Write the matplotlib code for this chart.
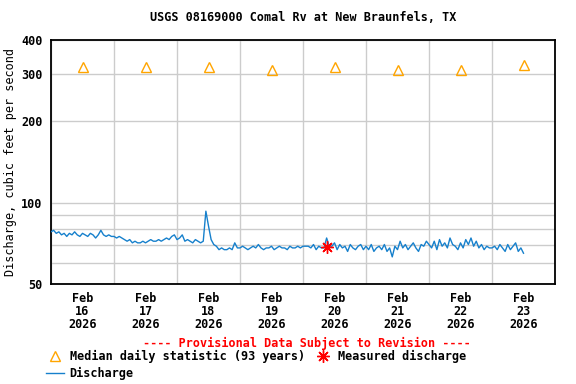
import matplotlib

matplotlib.use('Agg')
import matplotlib.dates as mdates
import matplotlib.pyplot as plt
import pandas as pd

# hourly discharge, cfs, starting Feb 16 2026 00:00
discharge_start = '2026-02-16 00:00'
discharge_cfs = [
    78, 79, 77, 78, 76, 77, 75, 77, 76, 78, 76, 75, 77, 76, 75, 77, 76, 74, 76, 79, 76, 75, 76, 75,
    75, 74, 75, 74, 73, 72, 73, 71, 72, 71, 71, 72, 71, 72, 73, 72, 72, 73, 72, 73, 74, 73, 75, 76,
    73, 74, 76, 72, 73, 72, 71, 73, 72, 71, 72, 93, 82, 73, 70, 69, 67, 68, 67, 67, 68, 67, 71, 68,
    68, 69, 68, 67, 68, 69, 68, 70, 68, 67, 68, 68, 69, 67, 68, 69, 68, 68, 67, 69, 68, 68, 69, 68,
    69, 69, 69, 68, 70, 67, 69, 68, 68, 74, 69, 69, 71, 67, 70, 68, 69, 66, 70, 68, 67, 69, 70, 67,
    69, 67, 70, 66, 68, 69, 67, 70, 66, 68, 63, 69, 67, 72, 68, 70, 67, 69, 71, 68, 66, 70, 69, 72,
    70, 68, 72, 67, 73, 69, 71, 68, 74, 70, 69, 67, 71, 68, 73, 70, 74, 69, 72, 68, 70, 67, 69, 68,
    68, 69, 67, 70, 68, 66, 70, 67, 69, 71, 66, 68, 65,
]
median_days = ['2026-02-16 12:00', '2026-02-17 12:00', '2026-02-18 12:00', '2026-02-19 12:00',
               '2026-02-20 12:00', '2026-02-21 12:00', '2026-02-22 12:00', '2026-02-23 12:00']
median_cfs = [318, 318, 317, 311, 318, 311, 309, 322]
measured_time = ['2026-02-20 09:10']
measured_cfs = [68.6]
y_ticks = [50, 60, 70, 80, 90, 100, 200, 300, 400]
y_labels = ['50', '', '', '', '', '100', '200', '300', '400']

plt.rcParams['font.family'] = ['DejaVu Sans Mono']
plt.rcParams['font.weight'] = 'bold'
plt.rcParams['font.size'] = 8.5

times = pd.date_range(discharge_start, periods=len(discharge_cfs), freq='1h')

fig = plt.figure(figsize=(5.76, 3.84), dpi=100)
ax = fig.add_axes([51 / 576, 1 - 284 / 384, 504 / 576, 244 / 384])

ax.plot(times, discharge_cfs, color='#1680cc', lw=1.0, label='Discharge', zorder=3)
ax.plot(pd.to_datetime(median_days), median_cfs, ls='none', marker='^', ms=7, mfc='none',
        mec='#ffa500', mew=1.0, label='Median daily statistic (93 years)', zorder=4)
ax.plot(pd.to_datetime(measured_time), measured_cfs, ls='none', marker=(8, 2, 0), ms=9,
        mec='red', mew=1.0, label='Measured discharge', zorder=5)

ax.set_yscale('log')
ax.set_ylim(50, 400)
ax.set_yticks(y_ticks)
ax.set_yticklabels(y_labels)
ax.yaxis.set_minor_locator(matplotlib.ticker.NullLocator())
ax.set_ylabel('Discharge, cubic feet per second')
ax.yaxis.set_label_coords(-34 / 504, 0.5)

ax.set_xlim(pd.Timestamp('2026-02-16'), pd.Timestamp('2026-02-24'))
ax.xaxis.set_major_locator(mdates.DayLocator())
ax.xaxis.set_major_formatter(matplotlib.ticker.NullFormatter())
ax.xaxis.set_minor_locator(mdates.HourLocator(byhour=[12]))
ax.xaxis.set_minor_formatter(mdates.DateFormatter('%b\n%d\n%Y'))
for label in ax.xaxis.get_minorticklabels():
    label.set_linespacing(0.97)

ax.tick_params(axis='both', which='both', length=0)
ax.tick_params(axis='x', which='minor', pad=6)
ax.tick_params(axis='y', pad=6)
ax.grid(True, which='major', color='#cccccc', lw=1.0)
ax.set_axisbelow(True)
for spine in ax.spines.values():
    spine.set_linewidth(1.3)

ax.set_title('USGS 08169000 Comal Rv at New Braunfels, TX', fontsize=8.5,
             fontweight='bold', pad=14)

fig.text(307 / 576, 1 - 343 / 384, '---- Provisional Data Subject to Revision ----',
         color='red', ha='center', va='center')

handles, labels = ax.get_legend_handles_labels()
order = [1, 0, 2]
fig.legend([handles[i] for i in order], [labels[i] for i in order], ncol=2,
           loc='upper left', bbox_to_anchor=(46 / 576, 1 - 350 / 384), frameon=False,
           borderpad=0, borderaxespad=0, handlelength=1.5, handletextpad=0.5,
           columnspacing=0.8, labelspacing=0.35)

fig.savefig('out.png', dpi=100)
